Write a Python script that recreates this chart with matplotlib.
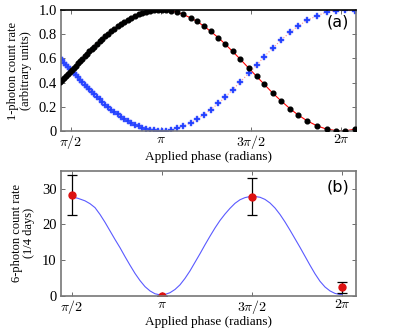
import numpy as np
import matplotlib
matplotlib.use("Agg")
import matplotlib.pyplot as plt

plt.rcParams['font.family'] = 'Liberation Serif'
plt.rcParams['mathtext.fontset'] = 'cm'

# panel (a): single-photon count rates vs applied phase (degrees)
phase_a = [79, 81, 83, 84.7, 86.7, 88.7, 90.7, 92.7, 94.7, 96.7, 99, 101.3, 103.7,
           106, 108.3, 111, 113.3, 116, 118.7, 121.3, 124.3, 127.3, 130.3, 133.3,
           136.7, 140, 143.3, 146.7, 150.3, 154, 157.7, 161.3, 165, 169, 173, 177,
           181, 185, 190, 195.7, 202.3, 210, 216, 223, 229.7, 237.3, 244.3, 251.7,
           259.3, 267.7, 275.7, 283, 291.7, 300, 309, 317.3, 326.3, 336.3, 345.7,
           355, 364, 374]
black = [0.405, 0.422, 0.439, 0.454, 0.471, 0.489, 0.506, 0.524, 0.541, 0.558,
         0.578, 0.598, 0.618, 0.638, 0.657, 0.679, 0.698, 0.719, 0.740, 0.760,
         0.782, 0.803, 0.823, 0.843, 0.864, 0.883, 0.901, 0.918, 0.934, 0.949,
         0.963, 0.974, 0.983, 0.991, 0.996, 0.999, 1.0, 0.998, 0.992, 0.981,
         0.963, 0.933, 0.905, 0.866, 0.823, 0.771, 0.717, 0.657, 0.593, 0.520,
         0.451, 0.388, 0.314, 0.250, 0.185, 0.132, 0.084, 0.042, 0.016, 0.004,
         0.002, 0.015]
blue = [0.606, 0.585, 0.566, 0.548, 0.530, 0.513, 0.495, 0.478, 0.460, 0.443,
        0.423, 0.403, 0.383, 0.363, 0.344, 0.322, 0.303, 0.282, 0.262, 0.241,
        0.219, 0.198, 0.178, 0.158, 0.137, 0.118, 0.100, 0.083, 0.067, 0.052,
        0.038, 0.027, 0.018, 0.010, 0.005, 0.002, 0.001, 0.002, 0.010, 0.022,
        0.040, 0.069, 0.097, 0.136, 0.177, 0.228, 0.282, 0.342, 0.406, 0.476,
        0.545, 0.614, 0.683, 0.752, 0.814, 0.868, 0.915, 0.953, 0.983, 0.995,
        0.999, 0.988]

# panel (b): six-photon count rate
phase_b = [90, 180, 270, 360]
counts_b = [28.2, 0.0, 27.8, 2.4]
err_b = [5.5, 0.0, 5.2, 1.5]
curve_phase = [90, 96, 103, 108, 113, 118, 123, 128, 133, 138, 143, 148, 153, 158,
               163, 168, 173, 178, 183, 188, 193, 198, 203, 208, 213, 218, 223, 228,
               233, 238, 243, 248, 253, 258, 263, 268, 273, 278, 283, 288, 293, 298,
               303, 308, 313, 318, 323, 328, 333, 338, 343, 348, 353, 358, 360]
curve_b = [27.7, 27.3, 26.6, 25.8, 24.7, 22.8, 20.6, 18.2, 15.8, 13.5, 11.0, 8.6,
           6.3, 4.3, 2.6, 1.4, 0.6, 0.3, 0.4, 0.9, 1.8, 3.1, 4.9, 7.0, 9.4, 11.8,
           14.3, 16.7, 19.0, 21.1, 22.9, 24.5, 25.9, 26.9, 27.5, 27.8, 27.8, 27.6,
           27.0, 26.0, 24.6, 22.8, 20.7, 18.4, 16.0, 13.6, 11.1, 8.6, 6.2, 4.1, 2.5,
           1.4, 0.7, 0.4, 0.4]

tick_pos = np.deg2rad([90, 180, 270, 360])
tick_lab = [r'$\pi/2$', r'$\pi$', r'$3\pi/2$', r'$2\pi$']

fig = plt.figure(figsize=(4.08, 3.31), dpi=100)
ax1 = fig.add_axes([0.1495, 0.604, 0.723, 0.366])
ax2 = fig.add_axes([0.1495, 0.106, 0.723, 0.378])

xa = np.deg2rad(phase_a)
ax1.plot(xa, black, color='red', lw=0.8, zorder=1)
ax1.plot(xa, blue, color='#ff9090', lw=0.8, ls=':', zorder=1)
ax1.plot(xa, black, 'o', color='black', ms=3.4, zorder=3)
ax1.plot(xa, blue, 'P', color='#2040ff', ms=4.3, mec='#5566ff', mew=0.3, zorder=2)
ax1.set_xlim(np.deg2rad(80), np.deg2rad(375))
ax1.set_ylim(0, 1.0)
ax1.set_yticks([0, 0.2, 0.4, 0.6, 0.8, 1.0])
ax1.set_yticklabels(['0', '0.2', '0.4', '0.6', '0.8', '1.0'])
ax1.set_ylabel('1-photon count rate\n(arbitrary units)', fontsize=9, linespacing=1.05,
               labelpad=5)
ax1.text(0.94, 0.9, '(a)', transform=ax1.transAxes, ha='center', va='center',
         fontsize=11.5, family='DejaVu Sans')

ax2.plot(np.deg2rad(curve_phase), curve_b, color='#5a5aff', lw=0.8)
ax2.errorbar(np.deg2rad(phase_b), counts_b, yerr=err_b, fmt='o', color='#dd1111',
             ms=5, ecolor='black', elinewidth=0.9, capsize=3.5, capthick=0.9)
ax2.set_xlim(np.deg2rad(79), np.deg2rad(374))
ax2.set_ylim(0, 35)
ax2.set_yticks([0, 10, 20, 30])
ax2.set_ylabel('6-photon count rate\n(1/4 days)', fontsize=9, linespacing=1.05,
               labelpad=5)
ax2.text(0.94, 0.87, '(b)', transform=ax2.transAxes, ha='center', va='center',
         fontsize=11.5, family='DejaVu Sans')

for ax in (ax1, ax2):
    ax.set_xticks(tick_pos)
    ax.set_xticklabels(tick_lab)
    ax.set_xlabel('Applied phase (radians)', fontsize=9.5, labelpad=0)
    ax.tick_params(direction='in', length=3, width=0.6, labelsize=10.5, pad=3,
                   top=True, right=True, color='#555555')
    ax.tick_params(axis='x', labelsize=10, pad=1.5)
    for s in ax.spines.values():
        s.set_color('#777777')
        s.set_linewidth(1.2)
ax1.spines['top'].set_color('black')

fig.savefig('out.png', dpi=100)
